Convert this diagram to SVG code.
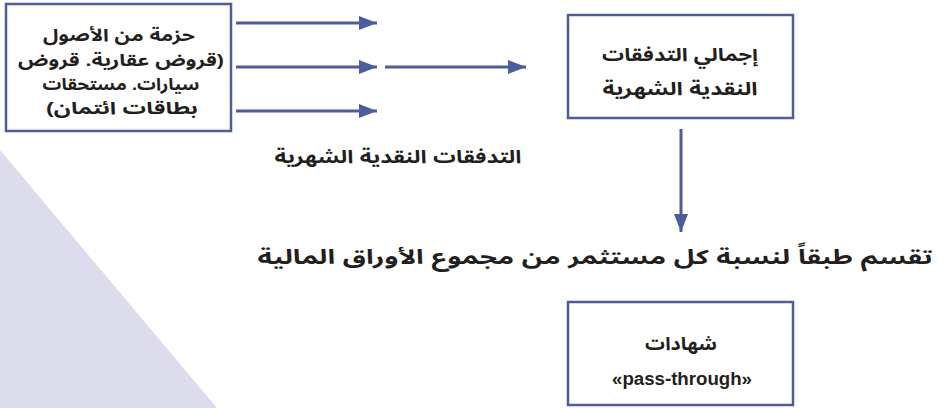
<svg xmlns="http://www.w3.org/2000/svg" width="939" height="408" viewBox="0 0 939 408">
<defs>
<style>
.box{fill:#ffffff;stroke:#4c5c9c;stroke-width:2.5}
.ln{stroke:#4c5c9c;stroke-width:3;fill:none}
.ar{font-family:"Liberation Sans","Noto Sans Arabic","DejaVu Sans",sans-serif;font-weight:bold;fill:#231f20;direction:rtl}
.lat{font-family:"Liberation Sans",Arial,sans-serif;font-weight:bold;fill:#231f20}
</style>
<marker id="ah" viewBox="0 0 18 14" refX="18" refY="7" markerWidth="18" markerHeight="14" markerUnits="userSpaceOnUse" orient="auto">
<path d="M0,0 L18,7 L0,14 Z" fill="#4c5c9c"/>
</marker>
</defs>
<rect width="939" height="408" fill="#ffffff"/>
<polygon points="0,150 217,408 0,408" fill="#dcdced"/>
<g id="connectors">
<line class="ln" x1="236" y1="23" x2="377" y2="23" marker-end="url(#ah)"/>
<line class="ln" x1="236" y1="67" x2="377" y2="67" marker-end="url(#ah)"/>
<line class="ln" x1="236" y1="111" x2="377" y2="111" marker-end="url(#ah)"/>
<line class="ln" x1="385" y1="67" x2="526" y2="67" marker-end="url(#ah)"/>
<line class="ln" x1="681" y1="129" x2="681" y2="232" marker-end="url(#ah)"/>
</g>
<g id="assets">
<rect class="box" x="6" y="4" width="225" height="127"/>
<text class="ar" font-size="17" text-anchor="middle" x="119" y="41" textLength="152" lengthAdjust="spacingAndGlyphs">حزمة من الأصول</text>
<text class="ar" font-size="17" text-anchor="middle" x="121" y="66" textLength="206" lengthAdjust="spacingAndGlyphs">(قروض عقارية.  قروض</text>
<text class="ar" font-size="17" text-anchor="middle" x="121" y="90" textLength="157" lengthAdjust="spacingAndGlyphs">سيارات. مستحقات</text>
<text class="ar" font-size="17" text-anchor="middle" x="122" y="114" textLength="152" lengthAdjust="spacingAndGlyphs">بطاقات ائتمان)</text>
</g>
<g id="total">
<rect class="box" x="568" y="15" width="225" height="103"/>
<text class="ar" font-size="18" text-anchor="middle" x="680" y="61" textLength="156" lengthAdjust="spacingAndGlyphs">إجمالي التدفقات</text>
<text class="ar" font-size="18" text-anchor="middle" x="680" y="95" textLength="155" lengthAdjust="spacingAndGlyphs">النقدية الشهرية</text>
</g>
<g id="label-flows">
<text class="ar" font-size="18" text-anchor="middle" x="398" y="163" textLength="247" lengthAdjust="spacingAndGlyphs">التدفقات النقدية الشهرية</text>
</g>
<g id="label-split">
<text class="ar" font-size="20" text-anchor="middle" x="595" y="264" textLength="675" lengthAdjust="spacingAndGlyphs">تقسم طبقاً لنسبة كل مستثمر من مجموع الأوراق المالية</text>
</g>
<g id="certificates">
<rect class="box" x="568" y="302" width="225" height="103"/>
<text class="ar" font-size="18" text-anchor="middle" x="681" y="350" textLength="72" lengthAdjust="spacingAndGlyphs">شهادات</text>
<text class="lat" font-size="18" text-anchor="middle" x="682" y="385" textLength="140" lengthAdjust="spacingAndGlyphs">«pass-through»</text>
</g>
</svg>
